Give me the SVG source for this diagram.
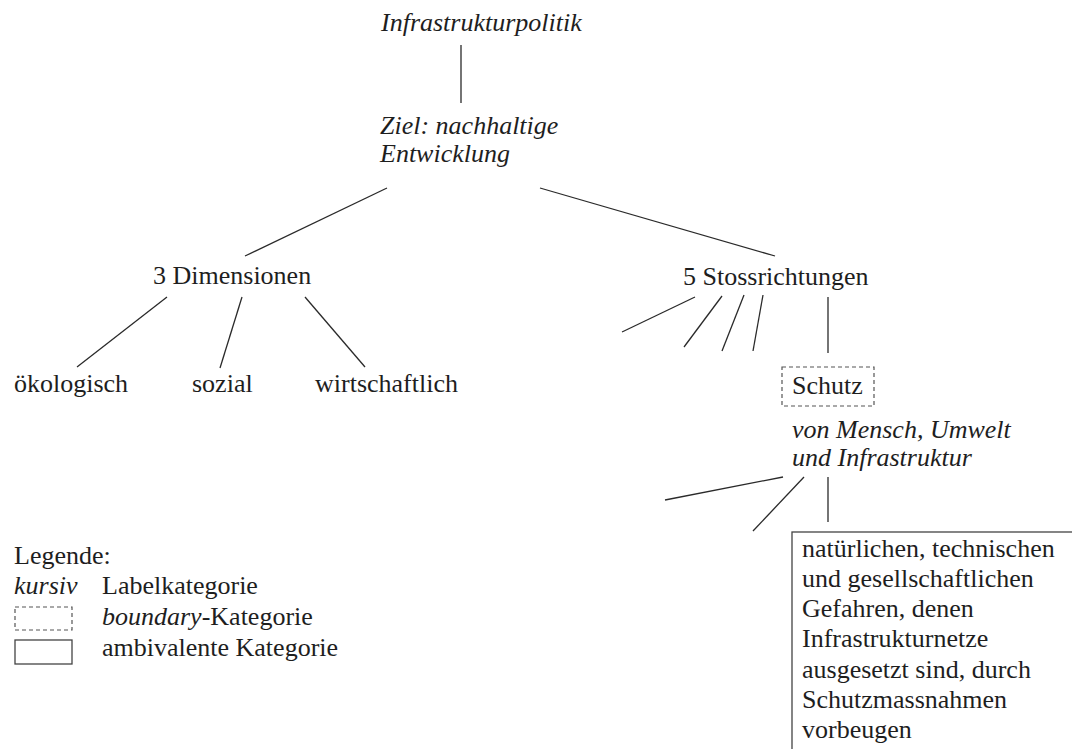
<svg xmlns="http://www.w3.org/2000/svg" width="1072" height="749" viewBox="0 0 1072 749">
<style>
text{font-family:'Liberation Serif','Tinos','Times New Roman','DejaVu Serif',serif;font-size:26px;fill:#1e1e1e}
.i{font-style:italic}
.c line{stroke:#2a2a2a;stroke-width:1.3}
.dash{fill:none;stroke:#555;stroke-width:1.2;stroke-dasharray:4 3}
.solid{fill:#fff;stroke:#444;stroke-width:1.3}
</style>
<rect width="1072" height="749" fill="#fff"/>
<g class="c" id="connectors">
<line x1="461" y1="45" x2="461" y2="103"/>
<line x1="387" y1="188" x2="245" y2="256"/>
<line x1="540" y1="188" x2="775" y2="256"/>
<line x1="167" y1="297" x2="77" y2="367"/>
<line x1="242" y1="297" x2="220" y2="368"/>
<line x1="305" y1="297" x2="365" y2="367"/>
<line x1="695" y1="297" x2="622" y2="332"/>
<line x1="722" y1="296" x2="684" y2="347"/>
<line x1="744" y1="295" x2="722" y2="351"/>
<line x1="763" y1="295" x2="753" y2="351"/>
<line x1="828" y1="297" x2="828" y2="353"/>
<line x1="783" y1="477" x2="665" y2="500"/>
<line x1="804" y1="477" x2="753" y2="531"/>
<line x1="828" y1="477" x2="828" y2="522"/>
</g>
<g id="n-infrastrukturpolitik"><text class="i" x="381" y="31">Infrastrukturpolitik</text></g>
<g id="n-ziel"><text class="i" x="380" y="134">Ziel: nachhaltige</text><text class="i" x="380" y="162">Entwicklung</text></g>
<g id="n-dimensionen"><text x="153" y="284">3 Dimensionen</text></g>
<g id="n-stossrichtungen"><text x="683" y="285">5 Stossrichtungen</text></g>
<g id="n-oekologisch"><text x="14" y="392">ökologisch</text></g>
<g id="n-sozial"><text x="192" y="392">sozial</text></g>
<g id="n-wirtschaftlich"><text x="315" y="392">wirtschaftlich</text></g>
<g id="n-schutz"><rect class="dash" x="782" y="367" width="92" height="39"/><text x="792" y="394">Schutz</text></g>
<g id="n-von"><text class="i" x="792" y="438">von Mensch, Umwelt</text><text class="i" x="792" y="466">und Infrastruktur</text></g>
<g id="n-gefahren">
<rect class="solid" x="792" y="532" width="300" height="240"/>
<text x="802" y="557">natürlichen, technischen</text>
<text x="802" y="587">und gesellschaftlichen</text>
<text x="802" y="617">Gefahren, denen</text>
<text x="802" y="647">Infrastrukturnetze</text>
<text x="802" y="678">ausgesetzt sind, durch</text>
<text x="802" y="708">Schutzmassnahmen</text>
<text x="802" y="738">vorbeugen</text>
</g>
<g id="legend">
<text x="14" y="564">Legende:</text>
<text class="i" x="14" y="594">kursiv</text>
<text x="102" y="594">Labelkategorie</text>
<rect class="dash" x="15" y="607" width="57" height="23"/>
<text x="102" y="625"><tspan class="i">boundary</tspan>-Kategorie</text>
<rect class="solid" x="15" y="640" width="57" height="24"/>
<text x="102" y="656">ambivalente Kategorie</text>
</g>
</svg>
